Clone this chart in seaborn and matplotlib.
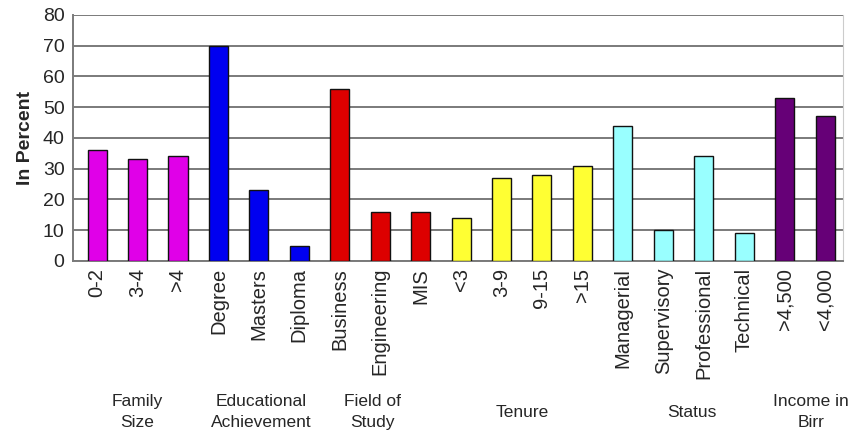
import matplotlib
matplotlib.use("Agg")
import matplotlib.pyplot as plt
import matplotlib.transforms as mtransforms
import pandas as pd
import seaborn as sns

# chart data
categories = ["0-2", "3-4", ">4",
              "Degree", "Masters", "Diploma",
              "Business", "Engineering", "MIS",
              "<3", "3-9", "9-15", ">15",
              "Managerial", "Supervisory", "Professional", "Technical",
              ">4,500", "<4,000"]
percent = [36, 33, 34,
           70, 23, 5,
           56, 16, 16,
           14, 27, 28, 31,
           44, 10, 34, 9,
           53, 47]
groups = (["Family\nSize"] * 3 + ["Educational\nAchievement"] * 3
          + ["Field of\nStudy"] * 3 + ["Tenure"] * 4
          + ["Status"] * 4 + ["Income in\nBirr"] * 2)
group_names = ["Family\nSize", "Educational\nAchievement", "Field of\nStudy",
               "Tenure", "Status", "Income in\nBirr"]
group_colors = ["#E000E8", "#0000F0", "#DD0000", "#FFFF33", "#99FFFF", "#660077"]
# where each group caption sits (x in bar index units)
group_label_x = [1.0, 4.05, 6.8, 10.5, 14.7, 17.65]

df = pd.DataFrame({"category": categories, "percent": percent, "group": groups})

sns.set_style("white")
plt.rcParams["font.family"] = ["Liberation Sans", "DejaVu Sans"]

fig = plt.figure(figsize=(8.57, 4.37), dpi=100)
ax = fig.add_axes([0.085, 0.403, 0.899, 0.563])

sns.barplot(data=df, x="category", y="percent", hue="group",
            hue_order=group_names, palette=group_colors, dodge=False,
            saturation=1, width=0.47, edgecolor="#111111", linewidth=1.0,
            legend=False, ax=ax, zorder=3)

ax.set_ylim(0, 80)
ax.set_xlim(-0.6, 18.45)
ax.set_yticks(range(0, 81, 10))
ax.yaxis.grid(True, color="#7a7a7a", linewidth=1.4, zorder=0)
ax.set_axisbelow(True)
ax.tick_params(axis="y", labelsize=14, length=0, pad=6)
ax.tick_params(axis="x", labelsize=14.5, length=0, pad=5, labelrotation=90)
ax.set_xlabel("")
ax.set_ylabel("In Percent", fontsize=14, fontweight="bold", labelpad=6)

for side in ["left", "bottom"]:
    ax.spines[side].set_color("#7a7a7a")
    ax.spines[side].set_linewidth(1.4)
ax.spines["top"].set_visible(False)
ax.spines["right"].set_color("#cccccc")

trans = mtransforms.blended_transform_factory(ax.transData, fig.transFigure)
for name, xpos in zip(group_names, group_label_x):
    ax.text(xpos, 0.057, name, transform=trans, ha="center", va="center",
            fontsize=12.5, linespacing=1.55, clip_on=False)

fig.savefig("out.png", dpi=100)
